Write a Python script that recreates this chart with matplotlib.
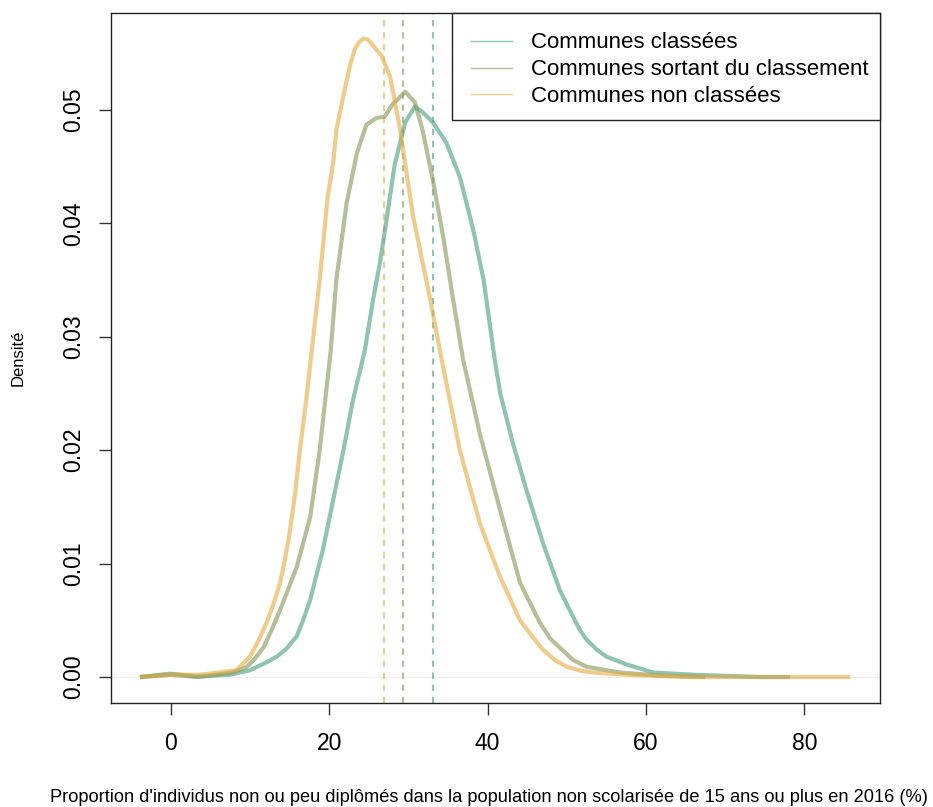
import matplotlib
matplotlib.use("Agg")
import matplotlib.pyplot as plt
from matplotlib.lines import Line2D
from matplotlib.patches import Rectangle

plt.rcParams['font.family'] = ['Liberation Sans', 'DejaVu Sans']

# ---- data ----
series_names = ["Communes classées", "Communes sortant du classement", "Communes non classées"]

x_classees = [-3.9, -0.1, 3.2, 7.5, 10.0, 12.1, 13.4, 14.6, 15.9, 16.7, 17.6, 19.2, 20.5, 21.8,
              23.0, 24.5, 25.6, 26.4, 27.3, 28.3, 29.6, 30.8, 31.8, 33.1, 34.8, 36.5, 38.2,
              39.5, 40.9, 41.6, 43.2, 44.9, 47.0, 49.1, 50.8, 51.7, 52.5, 53.8, 55.0, 57.6,
              60.9, 66.0, 74.4, 78.2]
y_classees = [0.0000, 0.0003, 0.00005, 0.0002, 0.0006, 0.0013, 0.0018, 0.0025, 0.0036, 0.0050,
              0.0068, 0.0112, 0.0156, 0.0200, 0.0244, 0.0288, 0.0335, 0.0365, 0.0406, 0.0453,
              0.0489, 0.0503, 0.0498, 0.0489, 0.0471, 0.0441, 0.0394, 0.0350, 0.0280, 0.0250,
              0.0206, 0.0165, 0.0118, 0.0077, 0.0053, 0.0041, 0.0033, 0.0024, 0.0018, 0.0011,
              0.0004, 0.0002, 0.0000, 0.0000]

x_sortant = [-3.9, 0.0, 3.5, 7.8, 9.6, 10.6, 11.7, 12.7, 13.8, 15.9, 17.6, 18.8, 20.2, 20.9,
             22.2, 23.5, 24.7, 26.0, 27.0, 28.0, 29.6, 30.8, 31.8, 33.1, 34.4, 35.6, 36.9,
             39.0, 41.6, 44.1, 46.6, 47.9, 49.1, 50.8, 52.5, 56.7, 62.0, 67.5]
y_sortant = [0.0000, 0.0002, 0.0000, 0.0004, 0.0009, 0.0016, 0.0026, 0.0041, 0.0059, 0.0097,
             0.0141, 0.0200, 0.0288, 0.0350, 0.0418, 0.0462, 0.0487, 0.0493, 0.0494, 0.0505,
             0.0516, 0.0507, 0.0482, 0.0438, 0.0388, 0.0335, 0.0280, 0.0215, 0.0147, 0.0083,
             0.0048, 0.0034, 0.0026, 0.0015, 0.0009, 0.0004, 0.0001, 0.0000]

x_non = [-3.9, 0.0, 3.7, 8.3, 10.0, 11.0, 12.1, 12.9, 13.8, 14.4, 15.0, 15.7, 16.3, 17.1, 17.8,
         18.8, 19.8, 20.5, 20.9, 21.6, 22.2, 22.7, 23.2, 23.8, 24.3, 24.9, 25.5, 26.6, 27.7,
         28.9, 30.6, 32.7, 34.2, 36.5, 39.0, 41.6, 44.1, 45.6, 47.0, 48.5, 50.0, 51.7, 53.3,
         57.6, 66.0, 85.8]
y_non = [0.0000, 0.0002, 0.0002, 0.0006, 0.0018, 0.0031, 0.0048, 0.0063, 0.0083, 0.0103, 0.0127,
         0.0162, 0.0200, 0.0244, 0.0288, 0.0350, 0.0423, 0.0453, 0.0482, 0.0506, 0.0526, 0.0541,
         0.0553, 0.0560, 0.0563, 0.0562, 0.0557, 0.0548, 0.0529, 0.0485, 0.0406, 0.0335, 0.0280,
         0.0200, 0.0136, 0.0088, 0.0050, 0.0036, 0.0024, 0.0015, 0.0009, 0.00056, 0.0004,
         0.0002, 0.0000, 0.0000]

means = [33.1, 29.3, 26.9]

x_ticks = [0, 20, 40, 60, 80]
y_ticks = [0.00, 0.01, 0.02, 0.03, 0.04, 0.05]
y_ticklabels = ["0.00", "0.01", "0.02", "0.03", "0.04", "0.05"]

x_label = "Proportion d'individus non ou peu diplômés dans la population non scolarisée de 15 ans ou plus en 2016 (%)"
y_label = "Densité"

colors = ["#449d7d", "#849657", "#e6aa3f"]
alpha = 0.6

# ---- figure ----
W, H = 933, 807
fig = plt.figure(figsize=(W / 100, H / 100), dpi=100)


def fx(px):
    return px / W


def fy(py):
    return 1 - py / H


ax_l, ax_r, ax_t, ax_b = 111, 880, 13, 703
ax = fig.add_axes([fx(ax_l), fy(ax_b), (ax_r - ax_l) / W, (ax_b - ax_t) / H])

ax.axhline(0, color="#eeeeee", lw=1.0, zorder=1)

for xs, ys, c in zip([x_classees, x_sortant, x_non], [y_classees, y_sortant, y_non], colors):
    ax.plot(xs, ys, color=c, alpha=alpha, lw=3.0, solid_capstyle="butt",
            solid_joinstyle="round", zorder=3)

for m, c in zip(means, colors):
    ax.axvline(m, color=c, alpha=alpha, lw=1.5, dashes=(3, 2.8), zorder=2)

ax.set_xlim(-7.55, 89.55)
ax.set_ylim(-0.00229, 0.05855)

ax.set_xticks(x_ticks)
ax.set_xticklabels([str(v) for v in x_ticks])
ax.set_yticks(y_ticks)
ax.set_yticklabels(y_ticklabels, rotation=90, va="center")
ax.tick_params(axis="both", direction="out", length=8.6, width=1.0, labelsize=16.5,
               color="#333333")
ax.tick_params(axis="x", pad=12)
ax.tick_params(axis="y", pad=10)
for s in ax.spines.values():
    s.set_linewidth(1.0)
    s.set_color("#222222")

# axis titles
fig.text(fx(489), fy(797), x_label, ha="center", va="center", fontsize=13.15)
fig.text(fx(18), fy((ax_t + ax_b) / 2), y_label, ha="center", va="center",
         rotation=90, fontsize=12)

# legend (drawn in figure pixel coordinates)
leg_l, leg_r, leg_t, leg_b = 452, 880, 13, 120
fig.add_artist(Rectangle((fx(leg_l), fy(leg_b)), (leg_r - leg_l) / W, (leg_b - leg_t) / H,
                         transform=fig.transFigure, facecolor="white", edgecolor="#222222",
                         lw=1.0, zorder=5))
row_lines = [41, 67.5, 94]
for name, c, ry in zip(series_names, colors, row_lines):
    fig.add_artist(Line2D([fx(471), fx(512)], [fy(ry), fy(ry)], transform=fig.transFigure,
                          color=c, alpha=alpha, lw=1.0, zorder=6))
    fig.text(fx(531), fy(ry + 7.5), name, ha="left", va="baseline", fontsize=16, zorder=6)

fig.savefig("out.png", dpi=100)
